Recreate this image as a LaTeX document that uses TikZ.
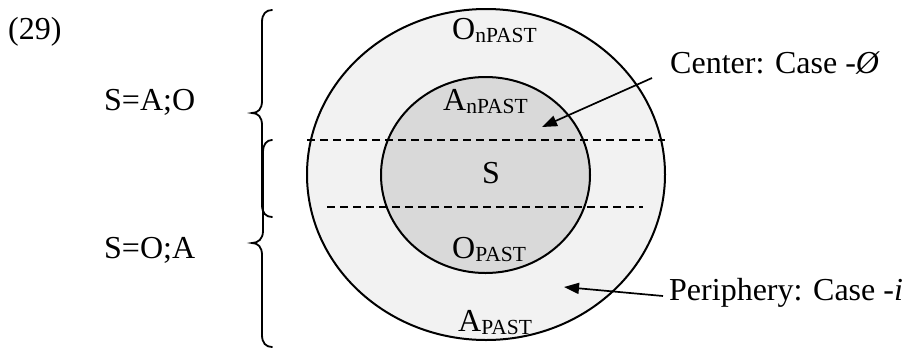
\documentclass[tikz,border=0pt]{standalone}
\usepackage{fontspec}
\setmainfont{Liberation Serif}
\usetikzlibrary{arrows.meta}
\newcommand\bodysize{\fontsize{32}{36}\selectfont}
\newcommand\subsize{\fontsize{21.5}{24}\selectfont}
% main letter with a lowered, smaller tag
\newcommand\ringlabel[2]{#1\raisebox{-3pt}{\subsize #2}}
\definecolor{ringout}{HTML}{F2F2F2}
\definecolor{ringin}{HTML}{D9D9D9}
\tikzset{
  txt/.style={inner sep=0pt, anchor=base west, font=\bodysize},
  ring/.style={draw=black, line width=2pt},
  cut/.style={draw=black, line width=1.8pt, dash pattern=on 8pt off 5pt},
  pointer/.style={draw=black, line width=1.7pt, -{Triangle[length=15pt,width=11pt]}},
  bracket/.style={draw=black, line width=1.8pt, line cap=round}
}
\begin{document}
\begin{tikzpicture}[x=1pt, y=-1pt]
\useasboundingbox (0,0) rectangle (905,349);

% two nested zones
\path[ring, fill=ringout] (486,174.5) ellipse [x radius=179, y radius=165.5];
\path[ring, fill=ringin] (485.5,175) ellipse [x radius=104.5, y radius=98];

% borders between the S=A;O and S=O;A readings
\draw[cut] (307,140) -- (665,140);
\draw[cut] (327,207) -- (643,207);

% braces: upper one for S=A;O, lower one for S=O;A
\draw[bracket] (272,10) .. controls (266,10) and (262,14) .. (262,22)
  -- (262,101) .. controls (262,109) and (258,113) .. (252,113)
  .. controls (258,113) and (262,117) .. (262,125)
  -- (262,205) .. controls (262,213) and (266,217) .. (272,217);
\draw[bracket] (272,140) .. controls (267,140) and (263,144) .. (263,152)
  -- (263,231) .. controls (263,239) and (258,243) .. (252,243)
  .. controls (258,243) and (262,247) .. (262,255)
  -- (262,335) .. controls (262,343) and (266,347) .. (272,347);

% left-hand labels
\node[txt] (num) at (8,39) {(29)};
\node[txt] (sao) at (104,110) {S=A;O};
\node[txt] (soa) at (104,258) {S=O;A};

% labels inside the zones
\node[txt] (onpast) at (452,39) {\ringlabel{O}{nPAST}};
\node[txt] (anpast) at (443,110) {\ringlabel{A}{nPAST}};
\node[txt] (subj) at (482,183) {S};
\node[txt] (opast) at (452,258) {\ringlabel{O}{PAST}};
\node[txt] (apast) at (458,331) {\ringlabel{A}{PAST}};

% right-hand captions with their pointers
\node[txt] (center) at (670,73) {Center: Case -\textit{Ø}};
\node[txt] (periph) at (669,300) {Periphery: Case -\textit{i}};
\coordinate (cfrom) at (652,78);
\coordinate (cto) at (542,127);
\coordinate (pfrom) at (663,296);
\coordinate (pto) at (564,287);
\draw[pointer] (cfrom) -- (cto);
\draw[pointer] (pfrom) -- (pto);
\end{tikzpicture}
\end{document}
